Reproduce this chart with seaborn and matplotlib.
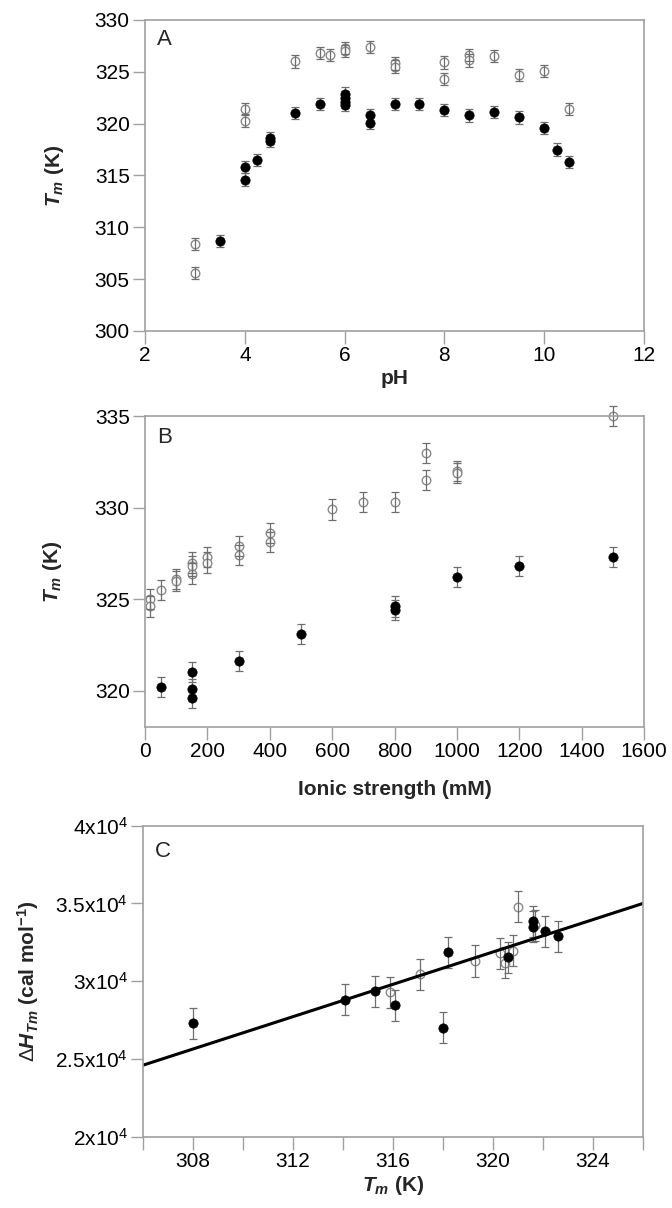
#!/usr/bin/env python3

import numpy as np
import pandas as pd
import seaborn as sns
import matplotlib.pyplot as plt
from matplotlib.ticker import FuncFormatter, MultipleLocator

# panel A: Tm vs pH
ph_open = [3, 3, 4, 4, 5, 5.5, 5.7, 6, 6, 6.5, 7, 7, 8, 8, 8.5, 8.5, 9, 9.5, 10, 10.5]
tm_open_ph = [308.4, 305.6, 321.4, 320.3, 326.0, 326.8, 326.6, 327.3, 327.0, 327.4,
              325.8, 325.5, 325.9, 324.3, 326.6, 326.1, 326.5, 324.7, 325.1, 321.4]
ph_filled = [3.5, 4, 4, 4.25, 4.5, 4.5, 5, 5.5, 6, 6, 6, 6, 6.5, 6.5, 7, 7.5, 8, 8.5,
             9, 9.5, 10, 10.25, 10.5]
tm_filled_ph = [308.7, 315.8, 314.6, 316.5, 318.6, 318.3, 321.0, 321.9, 322.9, 322.5,
                322.1, 321.8, 320.8, 320.1, 321.9, 321.9, 321.3, 320.8, 321.1, 320.6,
                319.6, 317.5, 316.3]
err_a = 0.6

# panel B: Tm vs ionic strength
ionic_open = [15, 15, 50, 100, 100, 150, 150, 150, 200, 200, 300, 300, 400, 400,
              600, 700, 800, 900, 900, 1000, 1000, 1500]
tm_open_ionic = [325.0, 324.6, 325.5, 326.1, 326.0, 327.0, 326.8, 326.4, 327.3, 327.0,
                 327.9, 327.4, 328.6, 328.1, 329.9, 330.3, 330.3, 333.0, 331.5,
                 332.0, 331.9, 335.0]
ionic_filled = [50, 150, 150, 150, 300, 500, 800, 800, 1000, 1200, 1500]
tm_filled_ionic = [320.2, 321.0, 320.1, 319.6, 321.6, 323.1, 324.6, 324.4, 326.2,
                   326.8, 327.3]
err_b = 0.55

# panel C: dH vs Tm
tm_c_filled = [308.0, 314.1, 315.3, 316.1, 318.0, 318.2, 320.6, 321.6, 321.6, 322.1, 322.6]
dh_c_filled = [27300, 28800, 29350, 28450, 27000, 31850, 31550, 33500, 33850, 33200, 32900]
tm_c_open = [315.9, 317.1, 319.3, 320.3, 320.5, 320.8, 321.0, 321.7]
dh_c_open = [29300, 30450, 31300, 31800, 31200, 31950, 34800, 33600]
err_c = 1000
fit_slope = 520.0
fit_intercept = 24600 - 520.0 * 306
fit_range = [306, 326]

sns.set_style("ticks")
plt.rcParams["font.family"] = ["Liberation Sans", "DejaVu Sans"]
plt.rcParams["mathtext.fontset"] = "custom"
plt.rcParams["mathtext.rm"] = "Liberation Sans"
plt.rcParams["mathtext.it"] = "Liberation Sans:italic"
plt.rcParams["mathtext.bf"] = "Liberation Sans:bold"
plt.rcParams["mathtext.bfit"] = "Liberation Sans:italic:bold"

GRAY = "#8a8a8a"
SPINE = "#a0a0a0"

fig = plt.figure(figsize=(6.72, 12.08), dpi=100)
ax_a = fig.add_axes([0.2158, 0.726, 0.7426, 0.2575])
ax_b = fig.add_axes([0.2158, 0.398, 0.7426, 0.2575])
ax_c = fig.add_axes([0.2128, 0.059, 0.7440, 0.2575])


def draw_points(ax, x, y, err, filled):
    df = pd.DataFrame({"x": x, "y": y})
    ax.errorbar(df.x, df.y, yerr=err, fmt="none", ecolor="#6e6e6e",
                elinewidth=0.9, capsize=3, capthick=0.9, zorder=2, clip_on=False)
    if filled:
        sns.scatterplot(data=df, x="x", y="y", ax=ax, color="black", s=45,
                        edgecolor="black", linewidth=0.5, zorder=3, clip_on=False)
    else:
        sns.scatterplot(data=df, x="x", y="y", ax=ax, color="white", s=38,
                        edgecolor=GRAY, linewidth=1.0, zorder=1.5, clip_on=False)


def style_axes(ax, letter, letter_y, label_x):
    for sp in ax.spines.values():
        sp.set_visible(True)
        sp.set_color(SPINE)
        sp.set_linewidth(1.2)
    ax.tick_params(which="both", direction="out", length=9, width=1, color=SPINE,
                   labelsize=15, labelcolor="black", pad=2)
    ax.text(0.024, letter_y, letter, transform=ax.transAxes, fontsize=16,
            ha="left", va="center")
    ax.yaxis.set_label_coords(label_x, 0.5)


tm_label = r"$\mathbfit{T}_{\mathbfit{m}}$ (K)"

# A
draw_points(ax_a, ph_open, tm_open_ph, err_a, False)
draw_points(ax_a, ph_filled, tm_filled_ph, err_a, True)
ax_a.set_xlim(2, 12)
ax_a.set_ylim(300, 330)
ax_a.set_xticks(range(2, 13, 2))
ax_a.set_yticks(range(300, 331, 5))
ax_a.set_xlabel("pH", fontsize=15, fontweight="bold", labelpad=3)
ax_a.set_ylabel(tm_label, fontsize=15, fontweight="bold")
style_axes(ax_a, "A", 0.936, -0.158)

# B
draw_points(ax_b, ionic_open, tm_open_ionic, err_b, False)
draw_points(ax_b, ionic_filled, tm_filled_ionic, err_b, True)
ax_b.set_xlim(0, 1600)
ax_b.set_ylim(318, 335)
ax_b.set_xticks(range(0, 1601, 200))
ax_b.set_yticks(range(320, 336, 5))
ax_b.set_xlabel("Ionic strength (mM)", fontsize=15, fontweight="bold", labelpad=13)
ax_b.set_ylabel(tm_label, fontsize=15, fontweight="bold")
style_axes(ax_b, "B", 0.93, -0.163)

# C
fit_x = np.array(fit_range, dtype=float)
sns.lineplot(x=fit_x, y=fit_slope * fit_x + fit_intercept, ax=ax_c,
             color="black", linewidth=2.2, zorder=2.5)
draw_points(ax_c, tm_c_open, dh_c_open, err_c, False)
draw_points(ax_c, tm_c_filled, dh_c_filled, err_c, True)
ax_c.set_xlim(306, 326)
ax_c.set_ylim(20000, 40000)
ax_c.set_xticks(range(308, 325, 4))
ax_c.xaxis.set_minor_locator(MultipleLocator(2))
ax_c.set_yticks(range(20000, 40001, 5000))
ax_c.yaxis.set_major_formatter(FuncFormatter(lambda v, p: f"{v / 1e4:g}x10$^4$"))
ax_c.set_xlabel(tm_label, fontsize=15, fontweight="bold", labelpad=2)
ax_c.set_ylabel(r"$\Delta\mathbfit{H}_{\mathbfit{Tm}}$ (cal mol$^{\mathbf{-1}}$)",
                fontsize=15, fontweight="bold")
style_axes(ax_c, "C", 0.916, -0.205)

fig.savefig("out.png", dpi=100)
